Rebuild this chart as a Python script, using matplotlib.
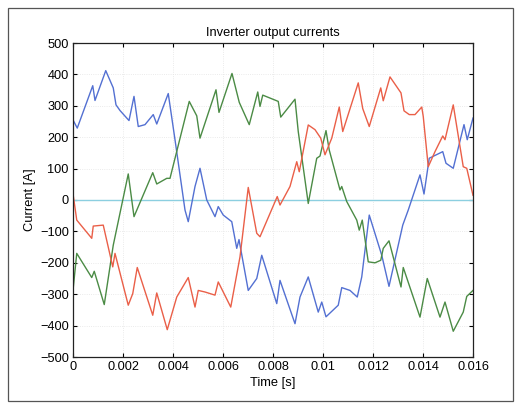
import numpy as np
import matplotlib
matplotlib.use("Agg")
import matplotlib.pyplot as plt
from matplotlib.patches import Rectangle

plt.rcParams['font.family'] = ['Liberation Sans', 'DejaVu Sans']

# phase currents (time in s, current in A)
t_blue = [0.0, 0.00017, 0.00079, 0.00088, 0.00131, 0.00161, 0.00172, 0.00188, 0.00224, 0.00244,
          0.00261, 0.00288, 0.00321, 0.00335, 0.00381, 0.00408, 0.00448, 0.00461, 0.00488, 0.00508,
          0.00535, 0.00568, 0.00581, 0.00601, 0.00635, 0.00655, 0.00664, 0.00701, 0.00735, 0.00755,
          0.00815, 0.00828, 0.00888, 0.00908, 0.00941, 0.00981, 0.00995, 0.01012, 0.01061, 0.01075,
          0.01108, 0.01137, 0.01155, 0.01185, 0.01235, 0.01264, 0.01319, 0.01341, 0.01388, 0.01404,
          0.01425, 0.01479, 0.01492, 0.01521, 0.01564, 0.01577, 0.016]
i_blue = [255, 229, 364, 317, 412, 357, 303, 285, 253, 330,
          234, 240, 272, 242, 339, 192, -32, -69, 43, 101,
          0, -53, -21, -48, -69, -154, -126, -288, -250, -176,
          -330, -256, -394, -309, -245, -357, -325, -372, -335, -279,
          -288, -309, -245, -48, -176, -275, -80, -32, 80, 19,
          133, 154, 117, 101, 240, 192, 261]

t_green = [0.0, 0.00015, 0.00075, 0.00085, 0.00125, 0.00161, 0.00221, 0.00244, 0.00319, 0.00335,
           0.00375, 0.00388, 0.00465, 0.00495, 0.00508, 0.00572, 0.00584, 0.00636, 0.00665, 0.00705,
           0.00739, 0.00748, 0.00759, 0.00821, 0.00831, 0.00888, 0.00901, 0.00941, 0.00975, 0.00988,
           0.01012, 0.01025, 0.01068, 0.01075, 0.01095, 0.01135, 0.01145, 0.01157, 0.01181, 0.01208,
           0.01231, 0.01241, 0.01264, 0.01312, 0.01321, 0.01388, 0.01417, 0.01468, 0.01488, 0.01521,
           0.01561, 0.01575, 0.016]
i_green = [-288, -170, -247, -227, -333, -144, 83, -53, 87, 51,
           69, 69, 314, 268, 197, 351, 279, 403, 311, 240,
           344, 298, 334, 314, 264, 321, 218, -11, 133, 140,
           221, 159, 32, 43, -5, -64, -96, -64, -197, -200,
           -192, -154, -130, -277, -215, -373, -250, -373, -325, -418,
           -357, -307, -288]

t_red = [0.0, 0.00015, 0.00075, 0.00081, 0.00121, 0.00159, 0.00168, 0.00221, 0.00239, 0.00257,
         0.00319, 0.00335, 0.00377, 0.00415, 0.00461, 0.00488, 0.00501, 0.00528, 0.00568, 0.00581,
         0.00631, 0.00668, 0.00701, 0.00735, 0.00748, 0.00817, 0.00828, 0.00868, 0.00895, 0.00905,
         0.00941, 0.00968, 0.00991, 0.01008, 0.01035, 0.01065, 0.01079, 0.01141, 0.01159, 0.01185,
         0.01231, 0.01241, 0.01268, 0.01312, 0.01324, 0.01345, 0.01368, 0.01395, 0.01401, 0.01421,
         0.01448, 0.01479, 0.01488, 0.01521, 0.01561, 0.01575, 0.016]
i_red = [20, -64, -122, -83, -80, -213, -170, -335, -298, -215,
         -367, -296, -413, -309, -247, -341, -288, -293, -303, -261,
         -341, -181, 40, -106, -117, 11, -16, 43, 122, 90,
         239, 224, 197, 144, 197, 296, 218, 373, 291, 234,
         357, 316, 392, 341, 284, 272, 272, 296, 266, 106,
         154, 204, 192, 303, 106, 101, 15]

# neutral current, sits at zero
t_zero = [0.0, 0.016]
i_zero = [0, 0]

xticks = [0, 0.002, 0.004, 0.006, 0.008, 0.01, 0.012, 0.014, 0.016]
xtick_labels = ['0', '0.002', '0.004', '0.006', '0.008', '0.01', '0.012', '0.014', '0.016']
yticks = [-500, -400, -300, -200, -100, 0, 100, 200, 300, 400, 500]

fig = plt.figure(figsize=(5.18, 4.03), dpi=100)
ax = fig.add_axes([73 / 518, 1 - 357 / 403, 400 / 518, 314 / 403])

ax.plot(t_zero, i_zero, color='#8ccfe0', lw=1.0)
ax.plot(t_blue, i_blue, color='#5370d2', lw=1.0)
ax.plot(t_green, i_green, color='#4b8b45', lw=1.0)
ax.plot(t_red, i_red, color='#ea5f48', lw=1.0)

ax.set_xlim(0, 0.016)
ax.set_ylim(-500, 500)
ax.set_xticks(xticks)
ax.set_xticklabels(xtick_labels)
ax.set_yticks(yticks)
ax.grid(True, color='#e4e4e4', ls=':', lw=0.6)
ax.tick_params(direction='in', top=True, right=True, length=3, labelsize=9.2, pad=3)
for s in ax.spines.values():
    s.set_linewidth(0.9)
    s.set_color('#222222')

ax.set_title('Inverter output currents', fontsize=9.3, pad=5)
ax.set_xlabel('Time [s]', fontsize=9.3, labelpad=2.5)
ax.set_ylabel('Current [A]', fontsize=9.3, labelpad=3)

# frame of the scanned page
fig.patches.append(Rectangle((8 / 518, 2 / 403), 505 / 518, 393 / 403, transform=fig.transFigure,
                             fill=False, edgecolor='#555555', lw=0.9))

fig.savefig('out.png', dpi=100)
